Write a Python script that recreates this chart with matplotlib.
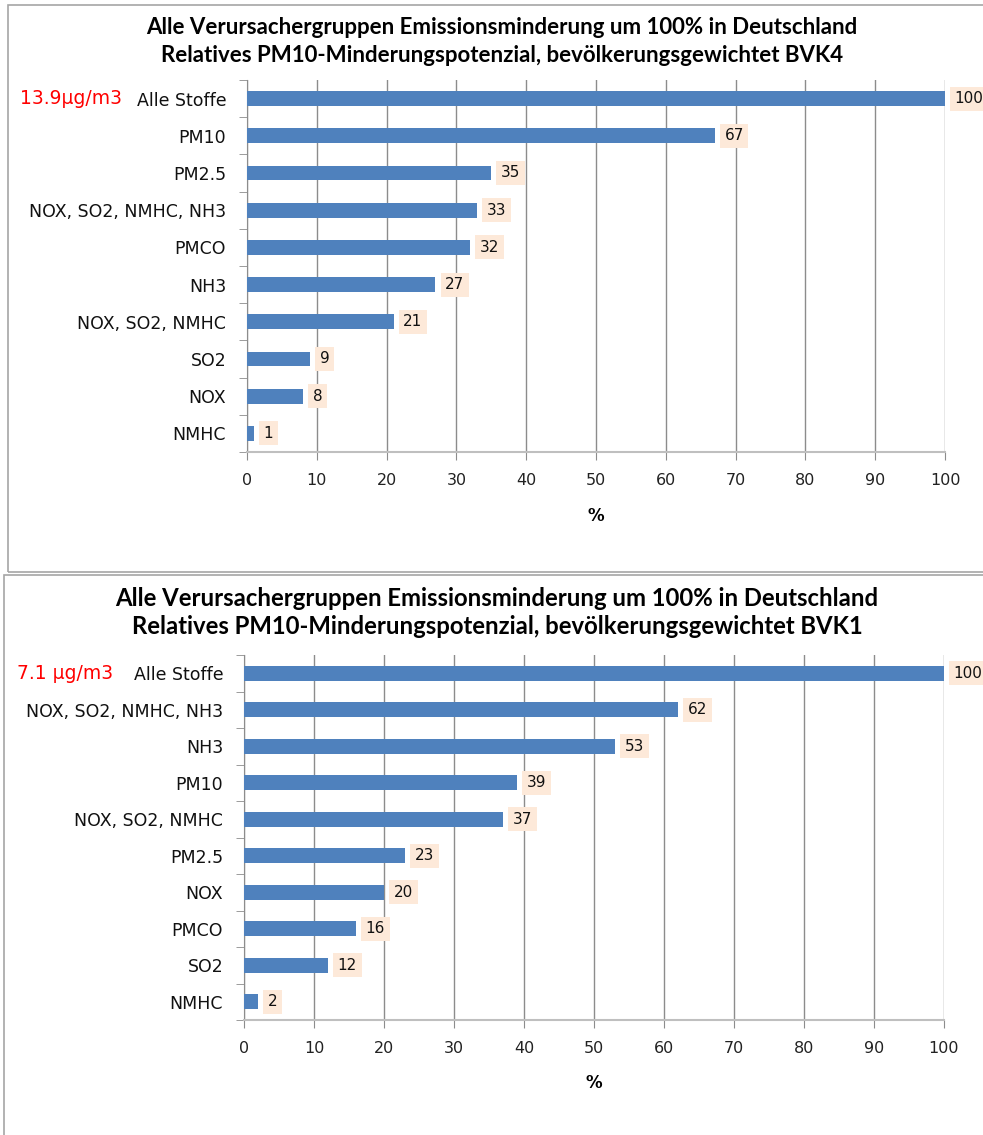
import matplotlib
matplotlib.use("Agg")
import matplotlib.pyplot as plt
from matplotlib.patches import Rectangle

W, H = 983, 1135

# --- data ---------------------------------------------------------------
title_line1 = "Alle Verursachergruppen Emissionsminderung um 100% in Deutschland"
title_bvk4 = "Relatives PM10-Minderungspotenzial, bevölkerungsgewichtet BVK4"
title_bvk1 = "Relatives PM10-Minderungspotenzial, bevölkerungsgewichtet BVK1"

categories_bvk4 = ["Alle Stoffe", "PM10", "PM2.5", "NOX, SO2, NMHC, NH3", "PMCO",
                   "NH3", "NOX, SO2, NMHC", "SO2", "NOX", "NMHC"]
values_bvk4 = [100, 67, 35, 33, 32, 27, 21, 9, 8, 1]
total_bvk4 = "13.9µg/m3"

categories_bvk1 = ["Alle Stoffe", "NOX, SO2, NMHC, NH3", "NH3", "PM10", "NOX, SO2, NMHC",
                   "PM2.5", "NOX", "PMCO", "SO2", "NMHC"]
values_bvk1 = [100, 62, 53, 39, 37, 23, 20, 16, 12, 2]
total_bvk1 = "7.1 µg/m3"

x_ticks = list(range(0, 101, 10))
x_label = "%"

# --- style ----------------------------------------------------------------
BAR = "#4F81BD"
GRID = "#8C8C8C"
LABEL_BG = "#FDE9D9"
BORDER = "#A6A6A6"
TITLE_FONT = "Lato"
TEXT_FONT = "DejaVu Sans"

fig = plt.figure(figsize=(W / 100, H / 100), dpi=100)
fig.patch.set_facecolor("white")


def fx(px):
    return px / W


def fy(py):
    return 1 - py / H


def add_panel(box, ax_px, title2, title_y, title_size, cats, vals, total, xlab_y):
    # panel frame
    x0, y0, x1, y1 = box
    fig.patches.append(Rectangle((fx(x0), fy(y1)), fx(x1 - x0), (y1 - y0) / H,
                                 transform=fig.transFigure, fill=False,
                                 edgecolor=BORDER, linewidth=1.2))
    cx = title_y[2]
    fig.text(fx(cx), fy(title_y[0]), title_line1, ha="center", va="center",
             fontsize=title_size, fontweight="bold", family=TITLE_FONT)
    fig.text(fx(cx), fy(title_y[1]), title2, ha="center", va="center",
             fontsize=title_size, fontweight="bold", family=TITLE_FONT)

    l, r, t, b = ax_px
    ax = fig.add_axes([fx(l), fy(b), fx(r - l), (b - t) / H])
    n = len(cats)
    ypos = list(range(n))
    ax.barh(ypos, vals, height=0.4, color=BAR, zorder=3)
    ax.set_ylim(n - 0.5, -0.5)
    ax.set_xlim(0, 100)
    ax.set_xticks(x_ticks)
    ax.set_xticklabels([str(v) for v in x_ticks], family=TEXT_FONT, fontsize=11.5,
                       color="#222222")
    ax.set_yticks(ypos)
    ax.set_yticklabels(cats, family=TEXT_FONT, fontsize=12.5, color="#111111")
    ax.set_yticks([i + 0.5 for i in range(-1, n)], minor=True)
    ax.tick_params(axis="y", which="major", length=0, pad=15)
    ax.tick_params(axis="y", which="minor", length=6, color=GRID, direction="out")
    ax.tick_params(axis="x", length=6, color=GRID, direction="out", pad=9)
    ax.grid(axis="x", color=GRID, linewidth=1.0, zorder=0)
    for s in ("top", "right"):
        ax.spines[s].set_visible(False)
    ax.spines["left"].set_color(GRID)
    ax.spines["bottom"].set_color("#BFBFBF")
    ax.spines["bottom"].set_linewidth(1.5)

    for yi, v in zip(ypos, vals):
        ax.annotate(str(v), xy=(v, yi), xytext=(7, 0), textcoords="offset points",
                    ha="left", va="center", fontsize=11, family=TEXT_FONT,
                    color="#111111", zorder=4,
                    bbox=dict(boxstyle="square,pad=0.3", facecolor=LABEL_BG,
                              edgecolor="none"))

    ax.text(-0.325, 0, total, transform=ax.get_yaxis_transform(), ha="left",
            va="center", color="#FF0000", fontsize=13.5, family=TEXT_FONT)
    fig.text(fx((l + r) / 2), fy(xlab_y), x_label, ha="center", va="center",
             fontsize=12, fontweight="bold", family=TEXT_FONT)
    return ax


ax1 = add_panel((8, 5, 1000, 572), (247, 945, 80, 452), title_bvk4,
                (28, 55, 502), 16, categories_bvk4, values_bvk4, total_bvk4, 516)
ax2 = add_panel((4, 575, 1000, 1160), (244, 944, 655, 1020), title_bvk1,
                (598, 627, 497), 17.2, categories_bvk1, values_bvk1, total_bvk1, 1083)

fig.savefig("out.png", dpi=100)
